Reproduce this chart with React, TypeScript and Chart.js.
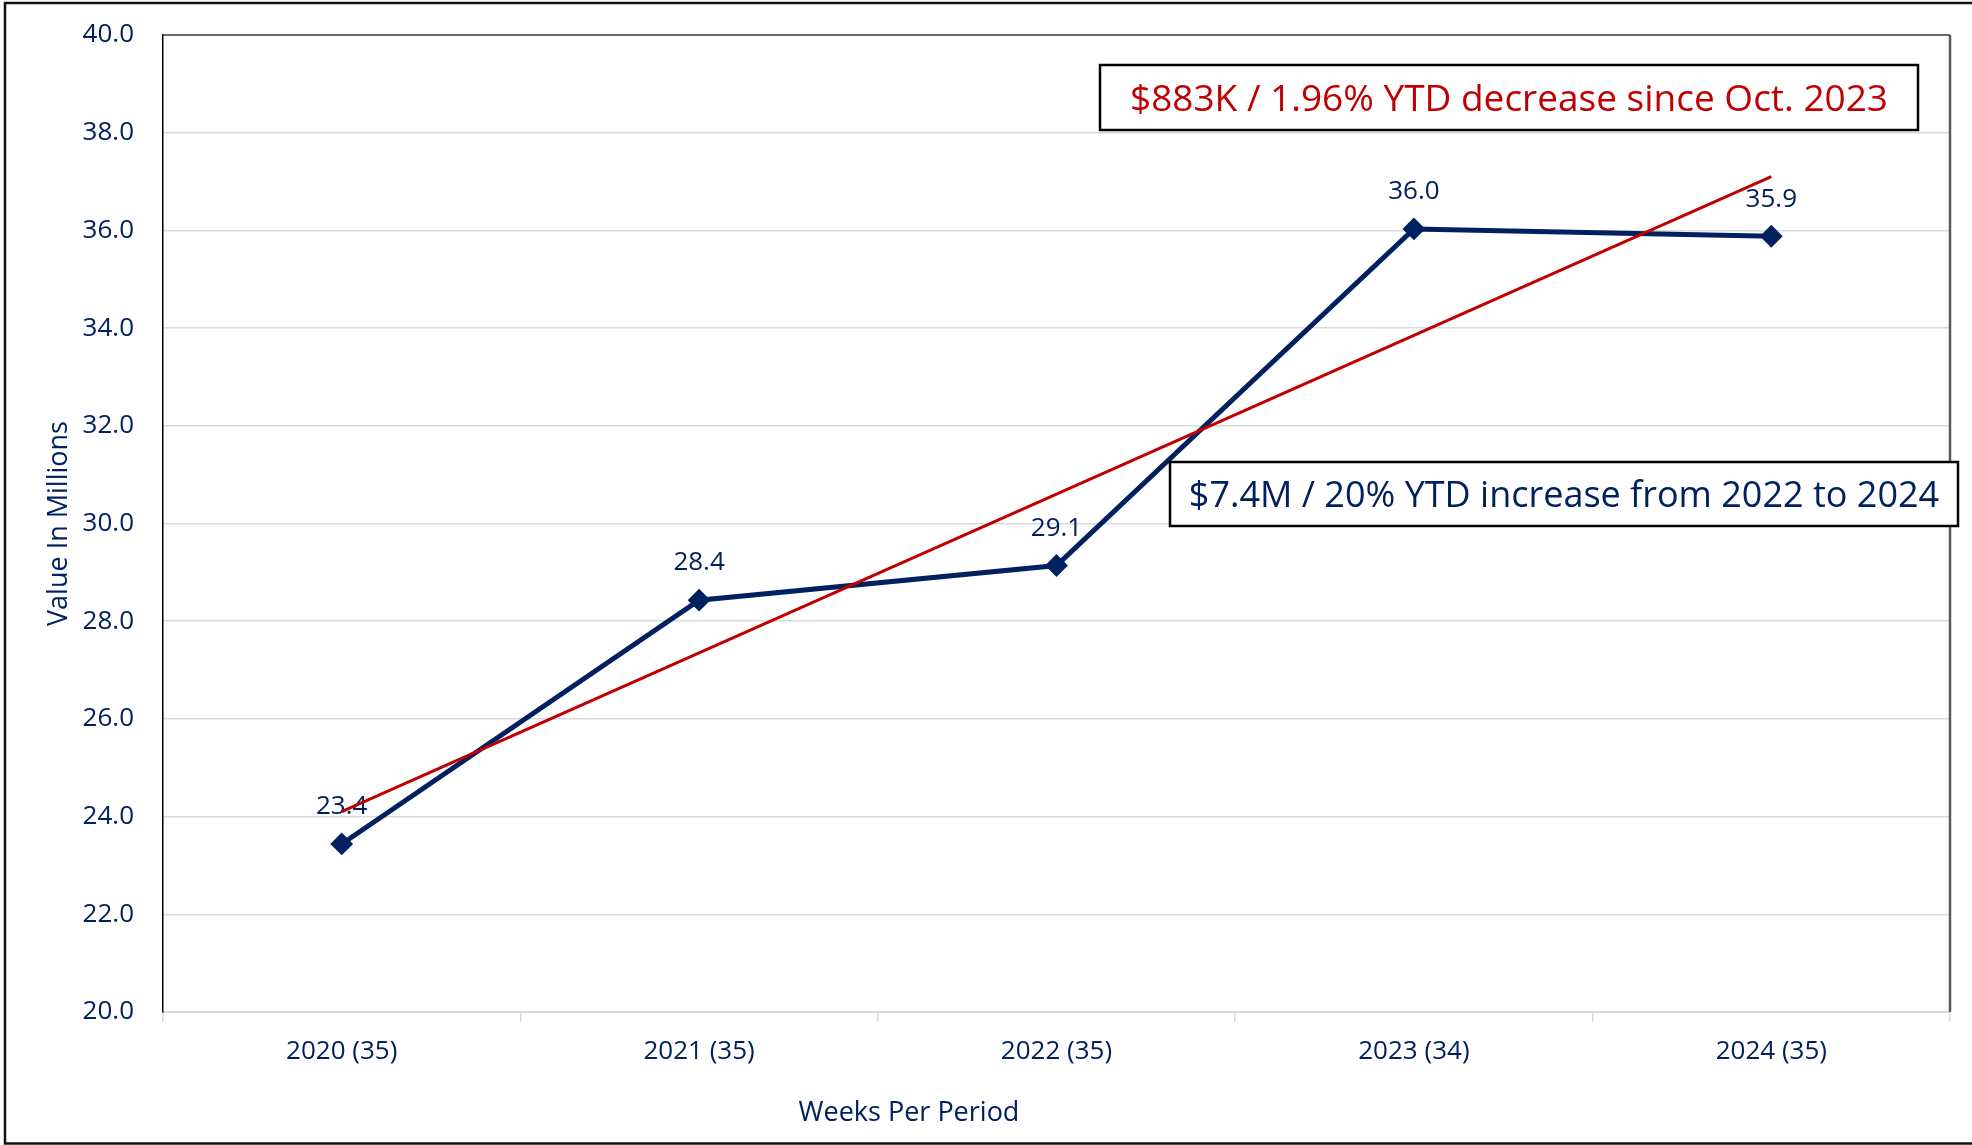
import React, { useEffect, useRef } from 'react';
import { Chart, registerables } from 'chart.js';

Chart.register(...registerables);

// ---- data ----
const categories = ['2020 (35)', '2021 (35)', '2022 (35)', '2023 (34)', '2024 (35)'];
const values = [23.44, 28.43, 29.14, 36.03, 35.88];
const trendValues: (number | null)[] = [24.1, null, null, null, 37.1];
const yMin = 20;
const yMax = 40;
const yStep = 2;
const noteDecrease = '$883K / 1.96% YTD decrease since Oct. 2023';
const noteIncrease = '$7.4M / 20% YTD increase from 2022 to 2024';
const xTitle = 'Weeks Per Period';
const yTitle = 'Value In Millions';

const NAVY = '#002060';
const RED = '#C00000';
const GRID = '#d9d9d9';
const FONT = '"Open Sans", "Noto Sans", sans-serif';

const decorations = {
  id: 'decorations',
  afterDatasetDraw(chart: any, args: any) {
    if (args.index !== 1) return;
    const ctx = chart.ctx;
    const meta = chart.getDatasetMeta(1);
    ctx.save();
    ctx.font = `26px ${FONT}`;
    ctx.fillStyle = NAVY;
    ctx.textAlign = 'center';
    ctx.textBaseline = 'alphabetic';
    meta.data.forEach((pt: any, i: number) => {
      ctx.fillText(values[i].toFixed(1), pt.x, pt.y - 39 + 9.3);
    });
    ctx.restore();
  },
  afterDraw(chart: any) {
    const ctx = chart.ctx;
    const a = chart.chartArea;
    ctx.save();
    // plot area top / right border
    ctx.strokeStyle = '#404040';
    ctx.lineWidth = 1.5;
    ctx.beginPath();
    ctx.moveTo(a.left, a.top);
    ctx.lineTo(a.right, a.top);
    ctx.stroke();
    ctx.strokeStyle = '#595959';
    ctx.lineWidth = 2.5;
    ctx.beginPath();
    ctx.moveTo(a.right, a.top);
    ctx.lineTo(a.right, a.bottom);
    ctx.stroke();

    // outer frame (top, left, bottom)
    ctx.strokeStyle = '#111';
    ctx.lineWidth = 2.5;
    ctx.beginPath();
    ctx.moveTo(1972, 3);
    ctx.lineTo(5, 3);
    ctx.lineTo(5, 1143.5);
    ctx.lineTo(1972, 1143.5);
    ctx.stroke();

    // x axis title
    ctx.font = `27px ${FONT}`;
    ctx.fillStyle = NAVY;
    ctx.textAlign = 'center';
    ctx.textBaseline = 'middle';
    ctx.fillText(xTitle, 909, 1113);

    // annotation boxes
    const box = (x0: number, y0: number, x1: number, y1: number, text: string, color: string, size: number) => {
      ctx.fillStyle = '#fff';
      ctx.fillRect(x0, y0, x1 - x0, y1 - y0);
      ctx.strokeStyle = '#000';
      ctx.lineWidth = 2.5;
      ctx.strokeRect(x0, y0, x1 - x0, y1 - y0);
      ctx.font = `${size}px ${FONT}`;
      ctx.fillStyle = color;
      ctx.textAlign = 'center';
      ctx.textBaseline = 'alphabetic';
      ctx.fillText(text, (x0 + x1) / 2, (y0 + y1) / 2 + size * 0.357);
    };
    box(1100, 65, 1918, 130, noteDecrease, RED, 37);
    box(1170, 462, 1958, 526, noteIncrease, NAVY, 36);
    ctx.restore();
  },
};

export default function App() {
  const ref = useRef<HTMLCanvasElement>(null);
  useEffect(() => {
    if (!ref.current) return;
    const chart = new Chart(ref.current, {
      type: 'line',
      data: {
        labels: categories,
        datasets: [
          {
            label: 'Trend',
            data: trendValues,
            borderColor: RED,
            backgroundColor: RED,
            borderWidth: 3,
            pointRadius: 0,
            spanGaps: true,
            tension: 0,
          },
          {
            label: 'Value',
            data: values,
            borderColor: NAVY,
            backgroundColor: NAVY,
            borderWidth: 5,
            pointStyle: 'rectRot',
            pointRadius: 10,
            pointBorderWidth: 2,
            pointBackgroundColor: NAVY,
            pointBorderColor: NAVY,
            tension: 0,
          },
        ],
      },
      options: {
        responsive: false,
        animation: false,
        layout: { padding: { left: 0, top: 35, right: 22, bottom: 0 } },
        plugins: {
          legend: { display: false },
          tooltip: { enabled: false },
        },
        scales: {
          x: {
            offset: true,
            afterFit: (s: any) => {
              s.height = 133;
            },
            grid: {
              offset: true,
              drawOnChartArea: false,
              drawTicks: true,
              tickLength: 10,
              color: GRID,
              lineWidth: 1.5,
            },
            border: { color: GRID, width: 2 },
            ticks: {
              color: NAVY,
              font: { family: FONT, size: 26 },
              padding: 14,
              maxRotation: 0,
            },
          },
          y: {
            min: yMin,
            max: yMax,
            afterFit: (s: any) => {
              s.width = 163;
              s.paddingTop = 0;
              s.paddingBottom = 0;
            },
            grid: { color: GRID, lineWidth: 1.5, drawTicks: false },
            border: { color: '#000', width: 1.5 },
            ticks: {
              stepSize: yStep,
              color: NAVY,
              font: { family: FONT, size: 26 },
              padding: 29,
              callback: (v: any) => Number(v).toFixed(1),
            },
            title: {
              display: true,
              text: yTitle,
              color: NAVY,
              font: { family: FONT, size: 27 },
              padding: { top: 43, bottom: 0 },
            },
          },
        },
      },
      plugins: [decorations],
    });
    return () => chart.destroy();
  }, []);
  return (
    <div style={{ position: 'fixed', left: 0, top: 0, width: 1972, height: 1145, background: '#fff' }}>
      <canvas ref={ref} width={1972} height={1145} />
    </div>
  );
}
